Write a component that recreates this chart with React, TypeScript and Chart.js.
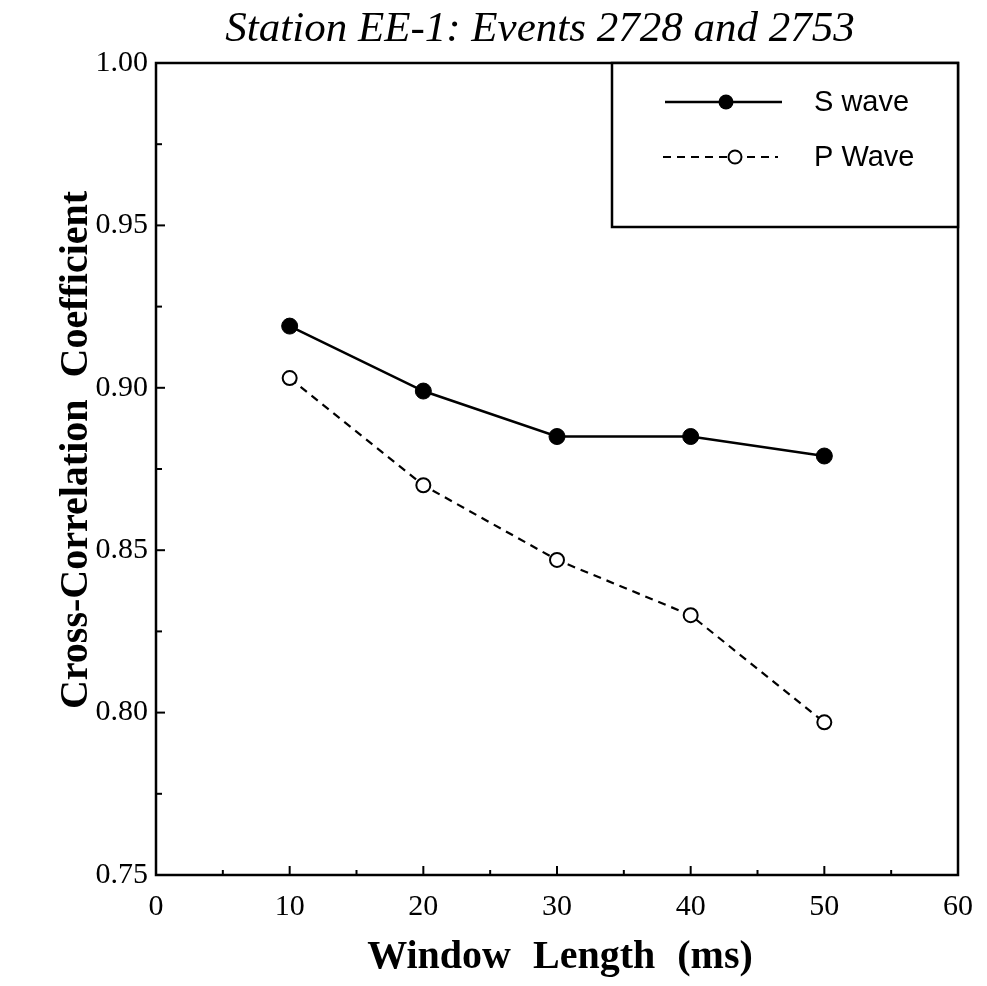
import React, { useEffect, useRef } from "react";
import { Chart, registerables } from "chart.js";

Chart.register(...registerables);

// Window length (ms)
const windowLengths = [10, 20, 30, 40, 50];
// Cross-correlation coefficients per phase
const sWave = [0.919, 0.899, 0.885, 0.885, 0.879];
const pWave = [0.903, 0.870, 0.847, 0.830, 0.797];

const titleText = "Station EE-1: Events 2728 and 2753";
const xTitleText = "Window Length (ms)";
const yTitleText = "Cross-Correlation Coefficient";
const legendLabels = ["S wave", "P Wave"];

const SERIF = "'Liberation Serif', 'Times New Roman', serif";
const SANS = "'Liberation Sans', Arial, sans-serif";

// Inward tick marks, frame, titles and the boxed legend
const decorPlugin = {
  id: "decor",
  afterDraw(chart: any) {
    const { ctx, chartArea } = chart;
    const xs = chart.scales.x;
    const ys = chart.scales.y;
    const { left, right, top, bottom } = chartArea;
    ctx.save();
    ctx.strokeStyle = "#000";
    ctx.lineWidth = 2;
    // x ticks every 5, major every 10
    for (let v = 5; v < 60; v += 5) {
      const px = xs.getPixelForValue(v);
      const len = v % 10 === 0 ? 9 : 5;
      ctx.beginPath();
      ctx.moveTo(px, bottom);
      ctx.lineTo(px, bottom - len);
      ctx.stroke();
    }
    // y ticks every 0.025, major every 0.05
    for (let i = 1; i < 10; i++) {
      const v = 0.75 + i * 0.025;
      const py = ys.getPixelForValue(v);
      const len = i % 2 === 0 ? 9 : 6;
      ctx.beginPath();
      ctx.moveTo(left, py);
      ctx.lineTo(left + len, py);
      ctx.stroke();
    }
    // frame
    ctx.lineWidth = 2.5;
    ctx.strokeRect(left, top, right - left, bottom - top);

    // legend box
    const lx0 = 612;
    const ly1 = 227;
    ctx.fillStyle = "#fff";
    ctx.fillRect(lx0, top, right - lx0, ly1 - top);
    ctx.lineWidth = 2.5;
    ctx.strokeRect(lx0, top, right - lx0, ly1 - top);

    // S wave entry
    ctx.lineWidth = 2.5;
    ctx.setLineDash([]);
    ctx.beginPath();
    ctx.moveTo(665, 102);
    ctx.lineTo(782, 102);
    ctx.stroke();
    ctx.fillStyle = "#000";
    ctx.beginPath();
    ctx.arc(726, 102, 7.5, 0, Math.PI * 2);
    ctx.fill();
    // P wave entry
    ctx.lineWidth = 2.2;
    ctx.setLineDash([8, 6]);
    ctx.beginPath();
    ctx.moveTo(663, 157);
    ctx.lineTo(778, 157);
    ctx.stroke();
    ctx.setLineDash([]);
    ctx.fillStyle = "#fff";
    ctx.lineWidth = 2;
    ctx.beginPath();
    ctx.arc(735, 157, 6.5, 0, Math.PI * 2);
    ctx.fill();
    ctx.stroke();

    ctx.fillStyle = "#000";
    ctx.font = `29px ${SANS}`;
    ctx.textAlign = "left";
    ctx.textBaseline = "middle";
    ctx.fillText(legendLabels[0], 814, 103);
    ctx.fillText(legendLabels[1], 814, 158);

    // main title
    ctx.font = `italic 43px ${SERIF}`;
    ctx.textAlign = "center";
    ctx.textBaseline = "alphabetic";
    ctx.fillText(titleText, 540, 41);

    // axis titles
    ctx.font = `bold 40px ${SERIF}`;
    (ctx as any).wordSpacing = "12px";
    ctx.fillText(xTitleText, 560, 968);
    ctx.save();
    ctx.translate(87, 450);
    ctx.rotate(-Math.PI / 2);
    ctx.textBaseline = "alphabetic";
    ctx.fillText(yTitleText, 0, 0);
    ctx.restore();
    (ctx as any).wordSpacing = "0px";
    ctx.restore();
  },
};

export default function App() {
  const canvasRef = useRef<HTMLCanvasElement>(null);

  useEffect(() => {
    if (!canvasRef.current) return;
    const chart = new Chart(canvasRef.current, {
      type: "line",
      data: {
        datasets: [
          {
            label: legendLabels[0],
            data: windowLengths.map((x, i) => ({ x, y: sWave[i] })),
            borderColor: "#000",
            borderWidth: 2.5,
            pointRadius: 8,
            pointBackgroundColor: "#000",
            pointBorderColor: "#000",
            pointBorderWidth: 1,
            tension: 0,
          },
          {
            label: legendLabels[1],
            data: windowLengths.map((x, i) => ({ x, y: pWave[i] })),
            borderColor: "#000",
            borderWidth: 2.2,
            borderDash: [8, 6],
            pointRadius: 7,
            pointBackgroundColor: "#fff",
            pointBorderColor: "#000",
            pointBorderWidth: 2,
            tension: 0,
          },
        ],
      },
      options: {
        animation: false,
        responsive: false,
        maintainAspectRatio: false,
        layout: { padding: { left: 0, top: 63, right: 24, bottom: 0 } },
        plugins: {
          legend: { display: false },
          title: { display: false },
          tooltip: { enabled: false },
        },
        scales: {
          x: {
            type: "linear",
            min: 0,
            max: 60,
            grid: { display: false, drawTicks: false },
            border: { display: false },
            ticks: {
              stepSize: 10,
              padding: 14,
              color: "#000",
              font: { family: SERIF, size: 30 },
              callback: (v: any) => String(v),
            },
            afterFit: (s: any) => {
              s.height = 111;
            },
          },
          y: {
            type: "linear",
            min: 0.75,
            max: 1.0,
            grid: { display: false, drawTicks: false },
            border: { display: false },
            ticks: {
              stepSize: 0.05,
              padding: 8,
              color: "#000",
              font: { family: SERIF, size: 30 },
              callback: (v: any) => Number(v).toFixed(2),
            },
            afterFit: (s: any) => {
              s.width = 156;
            },
          },
        },
      },
      plugins: [decorPlugin],
    });
    return () => chart.destroy();
  }, []);

  return (
    <div style={{ position: "fixed", left: 0, top: 0, width: 987, height: 986, background: "#fff" }}>
      <canvas ref={canvasRef} width={987} height={986} style={{ display: "block" }} />
    </div>
  );
}
